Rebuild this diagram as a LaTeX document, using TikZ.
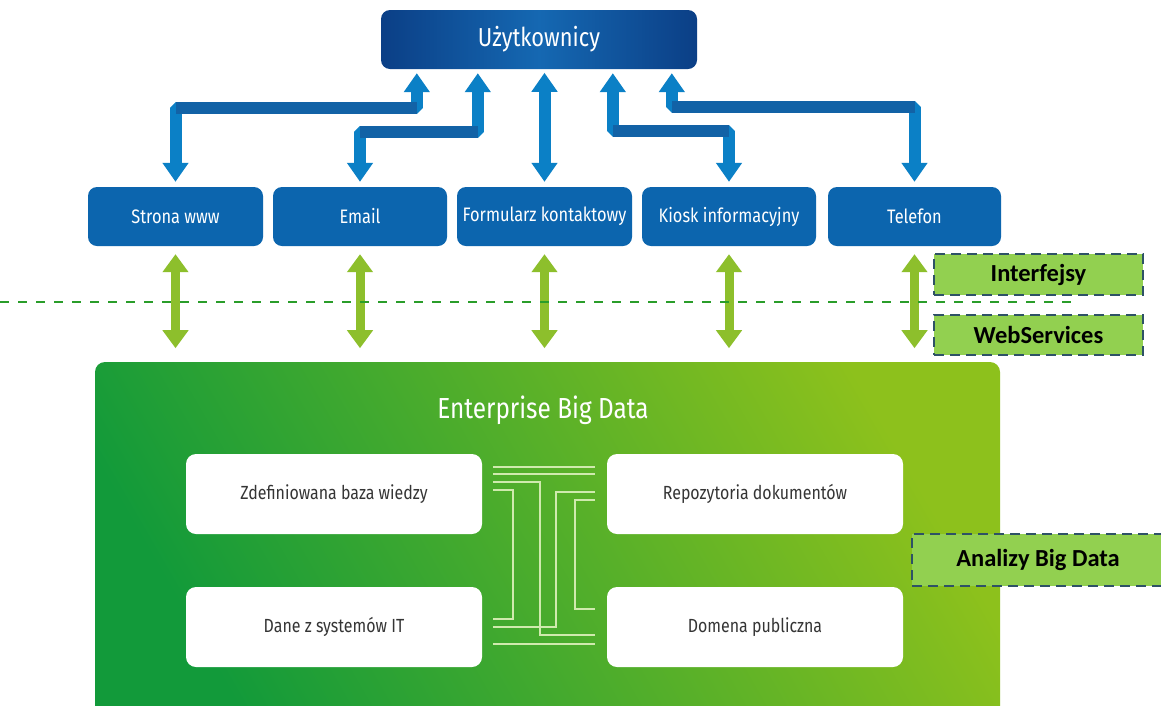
\documentclass[tikz,border=0pt]{standalone}
\usepackage{fontspec}
\setmainfont{Fira Sans}[FakeStretch=0.84]
\newfontfamily\calibri{Carlito}
\usetikzlibrary{arrows.meta}
\definecolor{usrdark}{HTML}{0B3F86}
\definecolor{usrmid}{HTML}{1568B2}
\definecolor{boxblue}{HTML}{0C65AE}
\definecolor{arrowlight}{HTML}{0B80C6}
\definecolor{arrowdark}{HTML}{1262A6}
\definecolor{arrowgreen}{HTML}{8DBF2C}
\definecolor{dashgreen}{HTML}{2A9D2A}
\definecolor{biggreen1}{HTML}{129A3A}
\definecolor{biggreen2}{HTML}{8DC11C}
\definecolor{wire}{HTML}{D0EAAE}
\definecolor{tagfill}{HTML}{92D050}
\definecolor{tagborder}{HTML}{2E5266}
\definecolor{graytext}{HTML}{353535}
\begin{document}
\begin{tikzpicture}[x=1pt,y=-1pt,
  chan/.style={fill=boxblue, rounded corners=9pt, minimum width=175pt, minimum height=59pt, inner sep=0pt, text=white, font=\fontsize{19.5}{22}\selectfont},
  wbox/.style={fill=white, rounded corners=10pt, minimum width=296pt, minimum height=80pt, inner sep=0pt, text=graytext, font=\fontsize{19}{22}\selectfont},
  tag/.style={fill=tagfill, draw=tagborder, line width=2.4pt, dash pattern=on 10pt off 6pt, inner sep=0pt, font=\calibri\bfseries\fontsize{24.5}{26}\selectfont, text=black},
  barrow/.style={draw=arrowlight, line width=12pt, line join=bevel, arrows={Triangle[width=25pt,length=19pt]-Triangle[width=25pt,length=19pt]}},
  bhz/.style={draw=arrowdark, line width=12pt, line cap=butt},
  garrow/.style={draw=arrowgreen, line width=9pt, arrows={Triangle[width=25pt,length=18pt]-Triangle[width=25pt,length=18pt]}},
  wireline/.style={draw=wire, line width=1.3pt}
]
\useasboundingbox (0,0) rectangle (1161,705);
\fill[white] (0,0) rectangle (1161,705);

% users
\node (users) [rounded corners=9pt, minimum width=316pt, minimum height=59pt, inner sep=0pt,
  left color=usrdark, right color=usrdark, middle color=usrmid, text=white,
  font=\fontsize{26}{28}\selectfont] at (539,39.5) {Użytkownicy};

% channels
\node (strona) [chan] at (175.5,216.5) {Strona www};
\node (email) [chan, minimum width=174pt] at (360,216.5) {Email};
\node (form) [chan] at (544.5,216.5) {Formularz kontaktowy};
\node (kiosk) [chan, minimum width=174pt] at (729,216.5) {Kiosk informacyjny};
\node (tel) [chan, minimum width=173pt] at (914.5,216.5) {Telefon};

% blue arrows
\coordinate (sB) at ([yshift=5pt]strona.north);
\coordinate (eB) at ([yshift=5pt]email.north);
\coordinate (fB) at ([yshift=5pt]form.north);
\coordinate (kB) at ([yshift=5pt]kiosk.north);
\coordinate (tB) at ([yshift=5pt]tel.north);
\coordinate (sT) at ([xshift=36pt,yshift=-4pt]users.south west);
\coordinate (eT) at ([xshift=97pt,yshift=-4pt]users.south west);
\coordinate (kT) at ([xshift=232pt,yshift=-4pt]users.south west);
\coordinate (tT) at ([xshift=291pt,yshift=-4pt]users.south west);
\path (sB) ++(0,-74) coordinate (sH);
\path (eB) ++(0,-50) coordinate (eH);
\path (kB) ++(0,-51) coordinate (kH);
\path (tB) ++(0,-75) coordinate (tH);

\draw[barrow] (sB) -- (sH) -| (sT);
\draw[bhz] (sH) -- (sH -| sT);
\draw[barrow] (eB) -- (eH) -| (eT);
\draw[bhz] (eH) -- (eH -| eT);
\draw[barrow] (fB) -- ++(0,-109);
\draw[barrow] (kB) -- (kH) -| (kT);
\draw[bhz] (kH) -- (kH -| kT);
\draw[barrow] (tB) -- (tH) -| (tT);
\draw[bhz] (tH) -- (tH -| tT);

% big green box
\node (big) [rounded corners=10pt, minimum width=905pt, minimum height=360pt, inner sep=0pt,
  top color=biggreen2, bottom color=biggreen1, shading angle=-60] at (547.5,542) {};
\node (title) [text=white, font=\fontsize{29}{32}\selectfont] at (543,410) {Enterprise Big Data};

% green arrows
\draw[garrow] ([yshift=-8pt]strona.south) -- ++(0,94);
\draw[garrow] ([yshift=-8pt]email.south) -- ++(0,94);
\draw[garrow] ([yshift=-8pt]form.south) -- ++(0,94);
\draw[garrow] ([yshift=-8pt]kiosk.south) -- ++(0,94);
\draw[garrow] ([yshift=-8pt]tel.south) -- ++(0,94);

% dashed line
\coordinate (dl) at (0,302);
\coordinate (dr) at (1072,302);
\draw[dashgreen, line width=2pt, dash pattern=on 9pt off 9pt] (dl) -- (dr);

% white boxes
\node (zdef) [wbox] at (334,494) {Zdefiniowana baza wiedzy};
\node (repo) [wbox] at (755,494) {Repozytoria dokumentów};
\node (dane) [wbox] at (334,627) {Dane z systemów IT};
\node (dom) [wbox] at (755,627) {Domena publiczna};

% wiring
\draw[wireline] (493,467) -- (595,467);
\draw[wireline] (493,474) -- (595,474);
\draw[wireline] (493,482) -- (540,482) -- (540,635) -- (595,635);
\draw[wireline] (493,490) -- (513,490) -- (513,619) -- (493,619);
\draw[wireline] (595,492) -- (556,492) -- (556,627) -- (493,627);
\draw[wireline] (595,500) -- (575,500) -- (575,609) -- (595,609);
\draw[wireline] (493,644) -- (595,644);

% tags
\node (interf) [tag, minimum width=209pt, minimum height=41pt] at (1038.5,274.5) {Interfejsy};
\node (websrv) [tag, minimum width=209pt, minimum height=40pt] at (1038.5,335) {WebServices};
\node (anal) [tag, minimum width=252pt, minimum height=52pt] at (1038,560) {Analizy Big Data};
\end{tikzpicture}
\end{document}
